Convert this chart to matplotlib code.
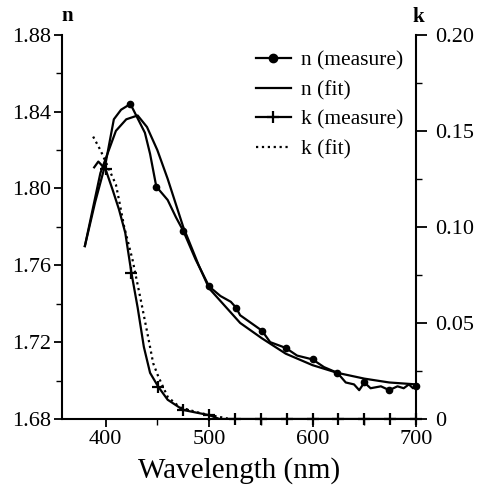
import matplotlib.pyplot as plt
from matplotlib.ticker import MultipleLocator, FixedLocator

plt.rcParams['font.family'] = ['Liberation Serif', 'DejaVu Serif']

# n measured (dense trace of the wiggly curve) and marker positions
n_meas_x = [380, 390, 400, 408, 415, 424, 438, 443, 449, 460, 468, 475,
            487, 500, 511, 521, 526, 530, 551, 559, 574, 585, 600, 611,
            624, 632, 640, 645, 650, 656, 666, 674, 682, 688, 693, 697, 700]
n_meas_y = [1.770, 1.793, 1.813, 1.836, 1.841, 1.844, 1.829, 1.818, 1.801,
            1.794, 1.785, 1.778, 1.763, 1.749, 1.744, 1.741, 1.738, 1.734,
            1.726, 1.720, 1.717, 1.713, 1.711, 1.707, 1.704, 1.699, 1.698,
            1.695, 1.699, 1.696, 1.697, 1.695, 1.697, 1.696, 1.698, 1.696,
            1.697]
n_mark_x = [424, 449, 475, 500, 526, 551, 574, 600, 624, 650, 674, 700]
n_mark_y = [1.844, 1.801, 1.778, 1.749, 1.738, 1.726, 1.717, 1.711, 1.704,
            1.699, 1.695, 1.697]

# n fit
n_fit_x = [380, 395, 410, 420, 431, 440, 450, 460, 475, 490, 500, 530,
           551, 574, 600, 624, 650, 674, 700]
n_fit_y = [1.770, 1.808, 1.830, 1.836, 1.838, 1.832, 1.820, 1.805, 1.780,
           1.760, 1.748, 1.730, 1.722, 1.714, 1.708, 1.704, 1.701, 1.699,
           1.698]

# k measured
k_meas_x = [389, 393, 400, 407, 413, 419, 421, 425, 431, 437, 443, 451,
            460, 475, 485, 500, 510, 525, 550, 575, 600, 625, 650, 675, 700]
k_meas_y = [0.131, 0.134, 0.130, 0.119, 0.109, 0.097, 0.090, 0.076, 0.058,
            0.0375, 0.024, 0.0167, 0.010, 0.0047, 0.0036, 0.002, 0.0, 0.0,
            0.0, 0.0, 0.0, 0.0, 0.0, 0.0, 0.0]
k_mark_x = [400, 425, 451, 475, 500, 525, 550, 575, 600, 625, 650, 675, 700]
k_mark_y = [0.130, 0.076, 0.0167, 0.0047, 0.002, 0, 0, 0, 0, 0, 0, 0, 0]

# k fit
k_fit_x = [388, 395, 410, 413, 418, 426, 434, 441, 446, 451, 460, 472,
           492, 520]
k_fit_y = [0.147, 0.140, 0.122, 0.114, 0.100, 0.083, 0.062, 0.043, 0.029,
           0.022, 0.0115, 0.006, 0.003, 0.0]

fig = plt.figure(figsize=(4.85, 4.97), dpi=100)
ax = fig.add_axes([0.128, 0.157, 0.73, 0.773])
ax2 = ax.twinx()

lw = 1.6
ax.plot(n_meas_x, n_meas_y, color='black', lw=lw)
ax.plot(n_mark_x, n_mark_y, 'o', color='black', ms=4.5, clip_on=False)
ax.plot(n_fit_x, n_fit_y, color='black', lw=lw)
ax2.plot(k_meas_x, k_meas_y, color='black', lw=lw)
ax2.plot(k_mark_x, k_mark_y, '+', color='black', ms=9, mew=1.6,
         clip_on=False)
ax2.plot(k_fit_x, k_fit_y, ':', color='black', lw=lw)

ax.set_xlim(358, 700)
ax.set_ylim(1.68, 1.88)
ax2.set_ylim(0, 0.20)

ax.xaxis.set_major_locator(FixedLocator([400, 500, 600, 700]))
ax.xaxis.set_minor_locator(MultipleLocator(50))
ax.yaxis.set_major_locator(MultipleLocator(0.04))
ax.yaxis.set_minor_locator(MultipleLocator(0.02))
ax.set_yticklabels(['%.2f' % v for v in ax.get_yticks()])
ax2.yaxis.set_major_locator(FixedLocator([0, 0.05, 0.10, 0.15, 0.20]))
ax2.yaxis.set_minor_locator(MultipleLocator(0.025))
ax2.set_yticklabels(['0', '0.05', '0.10', '0.15', '0.20'])

for a in (ax, ax2):
    for s in a.spines.values():
        s.set_linewidth(1.5)
    a.spines['top'].set_visible(False)
    a.tick_params(which='major', length=6, width=1.3, labelsize=16, pad=2)
    a.tick_params(which='minor', length=4, width=1.0)
ax.spines['right'].set_visible(False)
ax2.spines['left'].set_visible(False)
ax2.spines['bottom'].set_visible(False)
ax2.tick_params(axis='y', which='major', length=8, pad=6)

ax.set_xlabel('Wavelength (nm)', fontsize=21, labelpad=6)
fig.text(0.138, 0.988, 'n', fontsize=15, fontweight='bold', ha='center',
         va='top')
fig.text(0.862, 0.985, 'k', fontsize=15, fontweight='bold', ha='center',
         va='top')

handles = [
    plt.Line2D([], [], color='black', lw=lw, marker='o', ms=6),
    plt.Line2D([], [], color='black', lw=lw),
    plt.Line2D([], [], color='black', lw=lw, marker='+', ms=9, mew=1.6),
    plt.Line2D([], [], color='black', lw=lw, ls=':'),
]
labels = ['n (measure)', 'n (fit)', 'k (measure)', 'k (fit)']
ax2.legend(handles, labels, loc='upper right', bbox_to_anchor=(1.02, 1.01),
           frameon=False, fontsize=15.5, handlelength=1.6, handletextpad=0.5,
           labelspacing=0.45)

fig.savefig('out.png', dpi=100)
